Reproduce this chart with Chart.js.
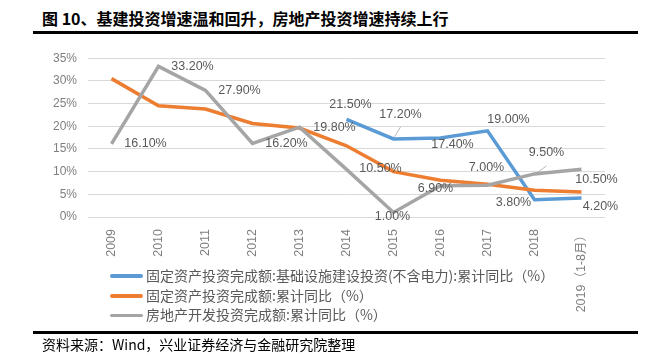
<!DOCTYPE html>
<html>
<head>
<meta charset="utf-8">
<script src="https://cdn.jsdelivr.net/npm/chart.js@4"></script>
<style>
  body { margin: 0; background: #fff; width: 659px; height: 362px; overflow: hidden; position: relative; }
  #title { position: absolute; left: 42px; top: 6px; font: bold 16px "Noto Sans CJK SC", serif; color: #000; white-space: nowrap; }
  .rule { position: absolute; left: 33px; width: 605px; height: 3px; background: #000; }
  #wrap { position: absolute; left: 0; top: 40px; width: 659px; height: 292px; }
  #legend { position: absolute; left: 110px; top: 266px; font: 14px "Noto Sans CJK SC", sans-serif; color: #595959; }
  #legend div { height: 19.7px; line-height: 19.7px; white-space: nowrap; }
  #legend span.ln { display: inline-block; width: 33px; height: 3.5px; vertical-align: middle; margin-right: 3px; position: relative; top: -1px; border-radius: 2px; }
  #source { position: absolute; left: 42px; top: 334px; font: 14px "Noto Sans CJK SC", serif; color: #000; white-space: nowrap; }
</style>
</head>
<body>
<div id="title">图 10、基建投资增速温和回升，房地产投资增速持续上行</div>
<div class="rule" style="top:31px"></div>
<div id="wrap"><canvas id="chart"></canvas></div>
<div id="legend"></div>
<div class="rule" style="top:331px"></div>
<div id="source">资料来源：Wind，兴业证券经济与金融研究院整理</div>
<script>
// 类别（年份）
const years = ['2009', '2010', '2011', '2012', '2013', '2014', '2015', '2016', '2017', '2018', '2019（1-8月）'];

// 系列数据（%）
const infraInvest = [null, null, null, null, null, 21.5, 17.2, 17.4, 19.0, 3.8, 4.2];
const fixedInvest = [30.5, 24.5, 23.8, 20.6, 19.6, 15.7, 10.0, 8.1, 7.2, 5.9, 5.5];
const realEstateInvest = [16.1, 33.2, 27.9, 16.2, 19.8, 10.5, 1.0, 6.9, 7.0, 9.5, 10.5];

// 图例名称
const seriesNames = [
    '固定资产投资完成额:基础设施建设投资(不含电力):累计同比（%）',
    '固定资产投资完成额:累计同比（%）',
    '房地产开发投资完成额:累计同比（%）'
];
const seriesColors = ['#5b9bd5', '#ed7d31', '#a5a5a5'];

// y轴刻度
const yTicks = [0, 5, 10, 15, 20, 25, 30, 35];

// 数据标签位置偏移 [dx, dy]，null = 不显示
const infraLabelOffsets = [null, null, null, null, null, [4, -15], [7, -24], [12, 6], [21, -11], [-21, 3], [19, 9]];
const realEstateLabelOffsets = [[34, 0], [34, 0], [34, 0], [34, 0], [35, 0], [34, -1], [-1, 4], [-5, 3], [-1, -18], [12, -21], [15, 10]];
// 引导线：哪个点需要细线
const leaderLines = { '0-6': [[7, -12], [1, -2]], '2-9': [[12, -8], [1, 0]] };

// 图例
const legendEl = document.getElementById('legend');
seriesNames.forEach(function (name, i) {
    const row = document.createElement('div');
    row.innerHTML = '<span class="ln" style="background:' + seriesColors[i] + '"></span>' + name;
    legendEl.appendChild(row);
});

// 数据标签插件
const dataLabelPlugin = {
    id: 'dataLabels',
    afterDatasetsDraw(chart) {
        const ctx = chart.ctx;
        ctx.save();
        ctx.font = '12.5px "Liberation Sans", Arial, sans-serif';
        ctx.fillStyle = '#595959';
        ctx.textAlign = 'center';
        ctx.textBaseline = 'middle';
        chart.data.datasets.forEach(function (ds, di) {
            if (!ds.labelOffsets) return;
            const meta = chart.getDatasetMeta(di);
            meta.data.forEach(function (pt, j) {
                const off = ds.labelOffsets[j];
                const v = ds.data[j];
                if (!off || v === null) return;
                const key = di + '-' + j;
                if (leaderLines[key]) {
                    const a = leaderLines[key][0], b = leaderLines[key][1];
                    ctx.strokeStyle = '#a6a6a6';
                    ctx.lineWidth = 0.8;
                    ctx.beginPath();
                    ctx.moveTo(pt.x + a[0], pt.y + a[1]);
                    ctx.lineTo(pt.x + b[0], pt.y + b[1]);
                    ctx.stroke();
                }
                ctx.fillText(v.toFixed(2) + '%', pt.x + off[0], pt.y + off[1]);
            });
        });
        ctx.restore();
    }
};

const ctx = document.getElementById('chart').getContext('2d');
const chart = new Chart(ctx, {
    type: 'line',
    data: {
        labels: years,
        datasets: [
            {
                label: seriesNames[0],
                data: infraInvest,
                borderColor: seriesColors[0],
                borderWidth: 3.5,
                pointRadius: 0,
                order: 3,
                labelOffsets: infraLabelOffsets
            },
            {
                label: seriesNames[1],
                data: fixedInvest,
                borderColor: seriesColors[1],
                borderWidth: 3.5,
                pointRadius: 0,
                order: 2
            },
            {
                label: seriesNames[2],
                data: realEstateInvest,
                borderColor: seriesColors[2],
                borderWidth: 3.5,
                pointRadius: 0,
                order: 1,
                labelOffsets: realEstateLabelOffsets
            }
        ]
    },
    options: {
        responsive: true,
        maintainAspectRatio: false,
        animation: false,
        layout: { padding: { top: 9, right: 54, bottom: 0, left: 0 } },
        plugins: {
            legend: { display: false },
            tooltip: { enabled: false }
        },
        scales: {
            x: {
                offset: true,
                grid: { display: false },
                border: { display: false },
                ticks: {
                    minRotation: 90,
                    maxRotation: 90,
                    autoSkip: false,
                    padding: 4,
                    color: '#7f7f7f',
                    font: { family: '"Liberation Sans", "Noto Sans CJK SC", sans-serif', size: 12.5 }
                },
                afterFit(scale) { scale.height = 115; }
            },
            y: {
                min: 0,
                max: 35,
                afterBuildTicks(scale) { scale.ticks = yTicks.map(v => ({ value: v })); },
                grid: { color: '#d9d9d9', lineWidth: 1, drawTicks: false },
                border: { display: false },
                ticks: {
                    padding: 11,
                    color: '#7f7f7f',
                    font: { family: '"Liberation Sans", sans-serif', size: 12 },
                    callback: v => v + '%'
                },
                afterFit(scale) { scale.width = 88; }
            }
        }
    },
    plugins: [dataLabelPlugin]
});
</script>
</body>
</html>
